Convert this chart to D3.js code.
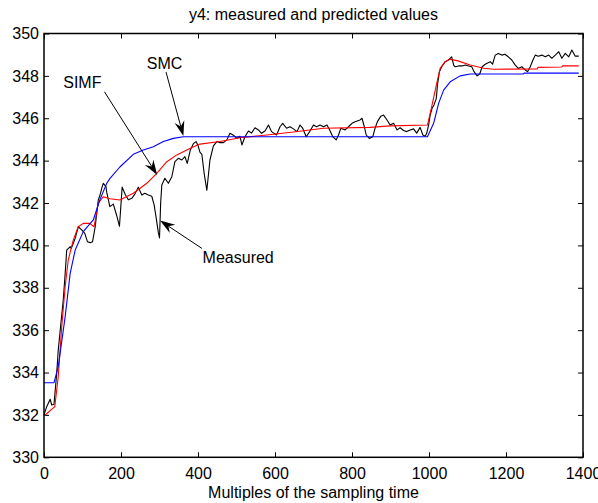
<!DOCTYPE html>
<html><head><meta charset="utf-8">
<script src="https://cdn.jsdelivr.net/npm/d3@7"></script>
<style>body{margin:0;background:#fff}svg{display:block}text{font-family:Arial,"Liberation Sans",sans-serif;fill:#000}</style>
</head><body>
<script>
const xTicks=[0,200,400,600,800,1000,1200,1400];
const yTicks=[330,332,334,336,338,340,342,344,346,348,350];
const measuredX=[0,7,16,20,26,33,37,43,50,55,59,68,71,76,81,89,98,106,113,120,126,133,141,146,150,154,161,163,171,180,189,196,203,211,219,228,236,245,254,262,271,280,286,291,297,300,303,306,314,323,332,340,349,358,366,372,380,388,395,400,405,410,416,423,431,440,449,457,466,475,483,492,501,509,514,522,531,539,548,557,565,574,583,591,604,613,620,630,639,648,657,665,672,681,690,700,708,717,726,735,742,750,759,765,771,782,791,800,808,821,826,832,837,845,854,860,866,875,882,891,899,908,917,925,934,942,951,960,968,977,984,990,994,999,1003,1008,1013,1019,1022,1027,1033,1042,1050,1055,1059,1064,1068,1077,1086,1094,1103,1111,1117,1125,1132,1138,1146,1151,1159,1165,1172,1180,1189,1197,1206,1215,1224,1232,1241,1250,1256,1263,1270,1276,1284,1293,1302,1311,1319,1328,1337,1345,1354,1363,1371,1380,1389];
const measuredY=[332.0,332.39,332.74,332.47,332.5,333.96,335.06,336.16,337.42,338.68,339.78,339.94,339.86,340.1,340.33,340.88,340.73,340.57,340.17,340.13,340.17,340.88,342.14,342.4,342.7,342.93,342.77,342.5,341.83,341.95,341.4,340.9,342.75,342.4,342.15,342.22,342.42,342.75,342.38,342.46,342.38,342.32,341.91,341.35,340.6,340.35,342.0,342.85,343.17,342.93,343.24,343.95,344.11,344.03,344.19,343.87,344.5,344.8,344.9,344.72,344.4,344.3,343.4,342.6,344.03,344.7,344.9,344.85,344.85,344.98,345.29,345.2,345.05,345.15,344.74,345.13,345.4,345.3,345.55,345.45,345.29,345.4,345.68,345.37,345.21,345.6,345.76,345.53,345.6,345.5,345.37,345.68,345.53,345.13,345.37,345.68,345.6,345.68,345.6,345.68,345.45,345.13,344.98,345.21,345.53,345.45,345.6,345.76,345.84,345.92,346.0,345.6,345.21,345.05,345.13,345.53,345.84,346.1,346.15,345.92,345.68,345.76,345.45,345.55,345.42,345.37,345.45,345.5,345.3,345.57,345.21,345.15,345.29,345.68,346.15,346.47,346.63,346.94,347.57,348.2,348.43,348.67,348.75,348.83,348.9,348.51,348.43,348.47,348.47,348.51,348.47,348.43,348.2,348.0,348.1,348.43,348.55,348.6,348.67,348.55,348.98,349.06,348.98,349.02,348.9,348.75,348.51,348.35,348.43,348.28,348.2,348.43,348.75,348.98,348.93,348.98,348.9,348.98,348.83,348.98,349.14,348.83,349.06,348.9,349.22,348.93,348.93];
const simfX=[0,28,37,46,55,63,76,89,102,119,130,141,154,171,197,232,267,293,319,345,380,405,457,509,579,648,726,847,899,996,1007,1020,1029,1042,1055,1073,1107,1142,1168,1281,1283,1345,1347,1389];
const simfY=[331.95,332.39,333.8,336.16,338.05,339.31,340.25,340.88,341.04,341.04,340.88,341.99,342.3,342.2,342.14,342.46,342.93,343.4,343.95,344.27,344.58,344.78,344.9,345.08,345.21,345.35,345.53,345.57,345.64,345.68,346.55,347.65,348.36,348.67,348.78,348.72,348.51,348.36,348.31,348.33,348.4,348.42,348.47,348.47];
const smcX=[0,26,37,55,68,81,102,128,145,163,171,197,232,258,284,310,336,362,996,1012,1025,1038,1055,1081,1107,1245,1247,1389];
const smcY=[333.52,333.52,334.28,336.64,338.68,339.78,340.65,341.2,342.15,342.93,343.15,343.7,344.3,344.5,344.66,344.9,345.05,345.13,345.13,345.76,346.7,347.33,347.72,348.0,348.09,348.09,348.13,348.13];
const notes=[{text:"SMC",tx:267,ty:348.31,x0:317,y0:348.18,x1:362,y1:345.16},
 {text:"SIMF",tx:50,ty:347.41,x0:157,y0:347.25,x1:294,y1:343.32},
 {text:"Measured",tx:412,ty:339.16,x0:410,y0:339.86,x1:301.5,y1:341.17}];
const title="y4: measured and predicted values", xLabel="Multiples of the sampling time";

const W=598,H=503,L=44,R=583,T=33.5,B=457.3;
const svg=d3.select("body").append("svg").attr("width",W).attr("height",H);
const x=d3.scaleLinear().domain([0,1400]).range([L,R]);
const y=d3.scaleLinear().domain([330,350]).range([B,T]);

function ax(g){g.select(".domain").remove();g.selectAll("line").attr("stroke","#000");g.selectAll("text").attr("font-size",16).attr("font-family","Arial,'Liberation Sans',sans-serif").attr("fill","#000");}
svg.append("g").attr("transform",`translate(0,${B})`).call(d3.axisBottom(x).tickValues(xTicks).tickFormat(d3.format("d")).tickSizeInner(-5).tickSizeOuter(0).tickPadding(10)).call(ax);
svg.append("g").attr("transform",`translate(0,${T})`).call(d3.axisTop(x).tickValues(xTicks).tickSizeInner(-5).tickSizeOuter(0).tickFormat("")).call(ax);
svg.append("g").attr("transform",`translate(${L},0)`).call(d3.axisLeft(y).tickValues(yTicks).tickFormat(d3.format("d")).tickSizeInner(-5).tickSizeOuter(0).tickPadding(5)).call(ax);
svg.append("g").attr("transform",`translate(${R},0)`).call(d3.axisRight(y).tickValues(yTicks).tickSizeInner(-5).tickSizeOuter(0).tickFormat("")).call(ax);

const line=d3.line().x(d=>x(d[0])).y(d=>y(d[1]));
const series=[[measuredX,measuredY,"#000"],[simfX,simfY,"#ff0000"],[smcX,smcY,"#0000ff"]];
series.forEach(([xs,ys,c])=>{
  svg.append("path").datum(xs.map((v,i)=>[v,ys[i]])).attr("d",line).attr("fill","none").attr("stroke",c).attr("stroke-width",1.1).attr("stroke-linejoin","round");
});

svg.append("rect").attr("x",L).attr("y",T).attr("width",R-L).attr("height",B-T).attr("fill","none").attr("stroke","#000").attr("stroke-width",1.5);

notes.forEach(n=>{
  svg.append("text").attr("x",x(n.tx)).attr("y",y(n.ty)).attr("font-size",16).text(n.text);
  const ax0=x(n.x0),ay0=y(n.y0),ax1=x(n.x1),ay1=y(n.y1);
  const dx=ax1-ax0,dy=ay1-ay0,len=Math.hypot(dx,dy),ux=dx/len,uy=dy/len,px=-uy,py=ux;
  const hl=15,hw=5,nb=10;
  svg.append("line").attr("x1",ax0).attr("y1",ay0).attr("x2",ax1-ux*nb).attr("y2",ay1-uy*nb).attr("stroke","#000").attr("stroke-width",1);
  const pts=[[ax1,ay1],[ax1-ux*hl+px*hw,ay1-uy*hl+py*hw],[ax1-ux*nb,ay1-uy*nb],[ax1-ux*hl-px*hw,ay1-uy*hl-py*hw]];
  svg.append("polygon").attr("points",pts.map(p=>p.join(",")).join(" ")).attr("fill","#000");
});

svg.append("text").attr("x",(L+R)/2).attr("y",19.5).attr("text-anchor","middle").attr("font-size",16).text(title);
svg.append("text").attr("x",(L+R)/2).attr("y",498).attr("text-anchor","middle").attr("font-size",16).text(xLabel);
</script>
</body></html>
